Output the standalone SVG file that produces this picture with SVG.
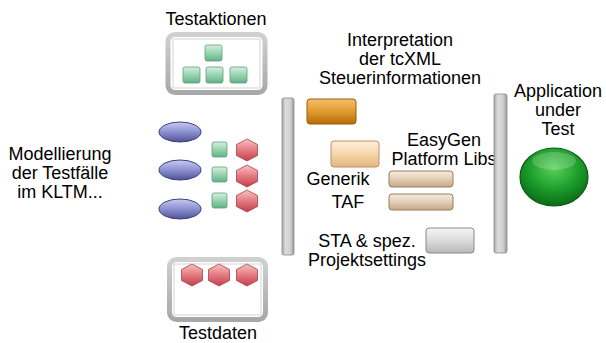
<svg xmlns="http://www.w3.org/2000/svg" width="606" height="343" viewBox="0 0 606 343">
<defs>
<linearGradient id="gBlue" x1="0" y1="0" x2="0" y2="1"><stop offset="0" stop-color="#c8cbf0"/><stop offset="0.45" stop-color="#9296d4"/><stop offset="1" stop-color="#4e5396"/></linearGradient>
<linearGradient id="gGreenSq" x1="0" y1="0" x2="0" y2="1"><stop offset="0" stop-color="#d4f0e0"/><stop offset="0.5" stop-color="#98d4b0"/><stop offset="1" stop-color="#62b086"/></linearGradient>
<linearGradient id="gRed" x1="0" y1="0" x2="0" y2="1"><stop offset="0" stop-color="#f8c4c4"/><stop offset="0.5" stop-color="#e47a80"/><stop offset="1" stop-color="#c0404c"/></linearGradient>
<linearGradient id="gOrange" x1="0" y1="0" x2="0" y2="1"><stop offset="0" stop-color="#f4c06a"/><stop offset="0.5" stop-color="#e09a30"/><stop offset="1" stop-color="#b86a08"/></linearGradient>
<linearGradient id="gPeach" x1="0" y1="0" x2="0" y2="1"><stop offset="0" stop-color="#fff0dc"/><stop offset="0.5" stop-color="#f6d6aa"/><stop offset="1" stop-color="#e2b880"/></linearGradient>
<linearGradient id="gTan" x1="0" y1="0" x2="0" y2="1"><stop offset="0" stop-color="#f6ece0"/><stop offset="0.5" stop-color="#e2ceb6"/><stop offset="1" stop-color="#c6a888"/></linearGradient>
<linearGradient id="gGreyR" x1="0" y1="0" x2="0" y2="1"><stop offset="0" stop-color="#f6f6f6"/><stop offset="0.5" stop-color="#dcdcdc"/><stop offset="1" stop-color="#b8b8b8"/></linearGradient>
<linearGradient id="gBar" x1="0" y1="0" x2="1" y2="0"><stop offset="0" stop-color="#a8a8a8"/><stop offset="0.3" stop-color="#dcdcdc"/><stop offset="0.7" stop-color="#d0d0d0"/><stop offset="1" stop-color="#989898"/></linearGradient>
<radialGradient id="gBall" cx="0.5" cy="0.35" r="0.65"><stop offset="0" stop-color="#5ad05a"/><stop offset="0.6" stop-color="#1a9a2a"/><stop offset="1" stop-color="#0a6a16"/></radialGradient>
<linearGradient id="gFrame" x1="0" y1="0" x2="0" y2="1"><stop offset="0" stop-color="#d0d0d0"/><stop offset="1" stop-color="#a8a8a8"/></linearGradient>
<g id="sq"><rect x="0" y="0" width="15" height="15" rx="2" fill="url(#gGreenSq)" stroke="#5e9e7a" stroke-width="0.8"/></g>
<g id="hex"><polygon points="0,-11 10.5,-5.5 10.5,5.5 0,11 -10.5,5.5 -10.5,-5.5" fill="url(#gRed)" stroke="#a8404a" stroke-width="0.8" stroke-linejoin="round"/></g>
<g id="ell"><ellipse cx="0" cy="0" rx="21" ry="10" fill="url(#gBlue)" stroke="#3c4082" stroke-width="1"/></g>
</defs>
<style>
text{font-family:"Liberation Sans",Arial,sans-serif;font-size:18px;fill:#000;text-anchor:middle}
.frame{fill:#fff;stroke:url(#gFrame);stroke-width:5}
.bar{fill:url(#gBar);stroke:#8a8a8a;stroke-width:0.8}
</style>
<rect width="606" height="343" fill="#fff"/>

<g id="testaktionen">
<text x="216" y="25">Testaktionen</text>
<rect class="frame" x="168" y="34.5" width="97" height="58" rx="7"/>
<rect x="173" y="39" width="87" height="49" fill="none" stroke="#c8c8c8" stroke-width="0.8"/>
<rect x="205" y="45" width="17" height="16" rx="2" fill="url(#gGreenSq)" stroke="#5e9e7a" stroke-width="0.8"/>
<rect x="183" y="67" width="17" height="16" rx="2" fill="url(#gGreenSq)" stroke="#5e9e7a" stroke-width="0.8"/>
<rect x="206" y="67" width="17" height="16" rx="2" fill="url(#gGreenSq)" stroke="#5e9e7a" stroke-width="0.8"/>
<rect x="230" y="67" width="17" height="16" rx="2" fill="url(#gGreenSq)" stroke="#5e9e7a" stroke-width="0.8"/>
</g>

<g id="modellierung">
<text x="60" y="160">Modellierung</text>
<text x="60" y="179">der Testfälle</text>
<text x="60" y="198">im KLTM...</text>
</g>

<g id="testfaelle">
<use href="#ell" x="180" y="132"/>
<use href="#ell" x="180" y="170"/>
<use href="#ell" x="180" y="209"/>
<use href="#sq" x="212" y="142"/>
<use href="#sq" x="212" y="167"/>
<use href="#sq" x="212" y="193"/>
<use href="#hex" x="247" y="150"/>
<use href="#hex" x="247" y="176"/>
<use href="#hex" x="247" y="201"/>
</g>

<g id="testdaten">
<rect class="frame" x="169.5" y="259.5" width="96" height="60" rx="7"/>
<rect x="174" y="264" width="87" height="51" fill="none" stroke="#c8c8c8" stroke-width="0.8"/>
<use href="#hex" x="192" y="275"/>
<use href="#hex" x="219" y="275"/>
<use href="#hex" x="247" y="275"/>
<text x="218" y="339">Testdaten</text>
</g>

<g id="bar1"><rect class="bar" x="282" y="98" width="12" height="157" rx="2"/></g>

<g id="interpretation">
<text x="400" y="46">Interpretation</text>
<text x="400" y="65">der tcXML</text>
<text x="400" y="84">Steuerinformationen</text>
<rect x="307" y="99" width="49" height="25" rx="3" fill="url(#gOrange)" stroke="#9a5c08" stroke-width="1"/>
</g>

<g id="easygen">
<rect x="331" y="141" width="48" height="26" rx="3" fill="url(#gPeach)" stroke="#c09060" stroke-width="1"/>
<text x="444" y="146">EasyGen</text>
<text x="444" y="165">Platform Libs</text>
</g>

<g id="generik">
<text x="338" y="185">Generik</text>
<rect x="389" y="171" width="64" height="16" rx="3" fill="url(#gTan)" stroke="#9a7c5c" stroke-width="1"/>
</g>

<g id="taf">
<text x="348" y="208">TAF</text>
<rect x="389" y="194" width="64" height="16" rx="3" fill="url(#gTan)" stroke="#9a7c5c" stroke-width="1"/>
</g>

<g id="sta">
<text x="367" y="247">STA &amp; spez.</text>
<text x="367" y="266">Projektsettings</text>
<rect x="426" y="228" width="48" height="25" rx="3" fill="url(#gGreyR)" stroke="#8a8a8a" stroke-width="1"/>
</g>

<g id="bar2"><rect class="bar" x="494" y="94" width="13" height="159" rx="2"/></g>

<g id="aut">
<text x="558" y="97">Application</text>
<text x="558" y="116">under</text>
<text x="558" y="135">Test</text>
<ellipse cx="554" cy="177" rx="34" ry="29" fill="url(#gBall)" stroke="#0a5a12" stroke-width="1.2"/>
<ellipse cx="554" cy="161" rx="22" ry="9" fill="#ffffff" opacity="0.18"/>
</g>

<g id="connectors"></g>
</svg>
